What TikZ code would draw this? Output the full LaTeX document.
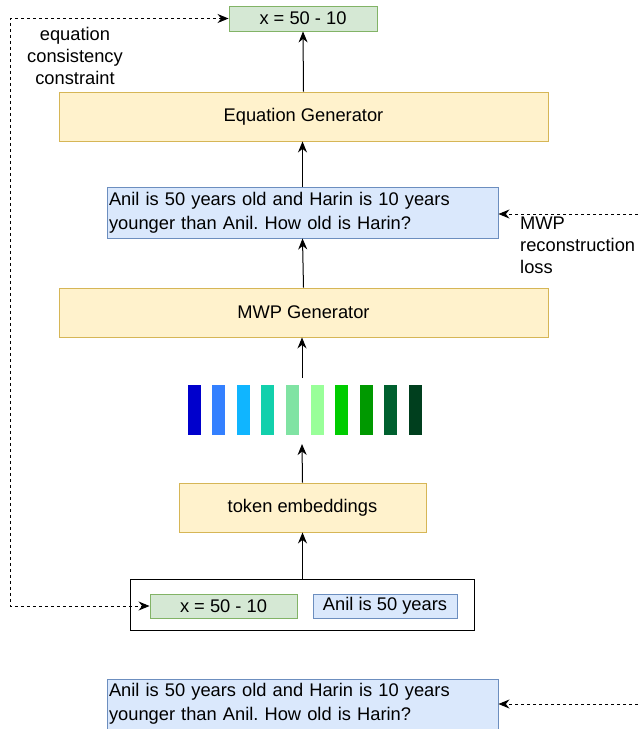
\documentclass[tikz,border=0pt]{standalone}
\usepackage{fontspec}
\setmainfont{Liberation Sans}
\usepackage{tikz}
\usetikzlibrary{positioning,arrows.meta}
\frenchspacing

\definecolor{eqfill}{HTML}{D5E8D4}
\definecolor{eqdraw}{HTML}{82B366}
\definecolor{txtfill}{HTML}{DAE8FC}
\definecolor{txtdraw}{HTML}{6C8EBF}
\definecolor{genfill}{HTML}{FFF2CC}
\definecolor{gendraw}{HTML}{D6B656}

\begin{document}
\begin{tikzpicture}[
  x=1pt, y=-1pt,
  font=\fontsize{18.3}{22}\selectfont,
  box/.style={draw, inner sep=0pt, line width=0.9pt},
  eqn/.style={box, fill=eqfill, draw=eqdraw},
  sentence/.style={box, fill=txtfill, draw=txtdraw, text width=387pt, align=left,
    minimum width=391pt, inner xsep=2pt, font=\fontsize{18.3}{24}\selectfont},
  generator/.style={box, fill=genfill, draw=gendraw},
  bar/.style={inner sep=0pt, minimum width=13pt, minimum height=50pt},
  flow/.style={-{Stealth[length=11pt,width=9pt]}, line width=1pt},
  loss/.style={flow, dashed, dash pattern=on 3pt off 3pt}
]
\useasboundingbox (0,0) rectangle (638,729);

% Outputs and generators
\node[eqn, minimum width=148pt, minimum height=25pt] (eqtop) at (303,18.5) {x = 50 - 10};
\node[generator, minimum width=489pt, minimum height=49pt] (eqgen) at (303.5,116.5) {Equation Generator};
\node[sentence, minimum height=51pt] (mwp) at (302.5,212.5)
  {Anil is 50 years old and Harin is 10 years younger than Anil. How old is Harin?};
\node[generator, minimum width=489pt, minimum height=49pt] (mwpgen) at (303.5,312.5) {MWP Generator};

% Token embedding bars
\foreach \c [count=\i] in {0000CC,3380FF,10B5FF,12D0AC,80E3A3,99FF99,00CC00,009900,00602F,003F1E} {
  \definecolor{barcol}{HTML}{\c}
  \node[bar, fill=barcol] (bar\i) at (194+24.6*\i-24.6,410) {};
}
\coordinate (barstop) at (302,378);
\coordinate (barsbot) at (302,444);

\node[generator, minimum width=247pt, minimum height=49pt] (emb) at (302.5,507.5) {token embeddings};

% Input pair
\node[box, fill=white, draw=black, minimum width=344pt, minimum height=51pt] (input) at (302,604.5) {};
\node[eqn, minimum width=147pt, minimum height=24pt] (eqin) at (223.5,606) {x = 50 - 10};
\node[box, fill=txtfill, draw=txtdraw, minimum width=144pt, minimum height=24pt] (partial) at (385,606) {Anil is 50 years};

\node[sentence, minimum height=50pt] (target) at (302.5,704)
  {Anil is 50 years old and Harin is 10 years younger than Anil. How old is Harin?};

% Connections
\draw[flow] (eqgen.north) -- (eqtop.south);
\draw[flow] (mwp.north) -- (mwp.north |- eqgen.south);
\draw[flow] (mwpgen.north) -- (mwp.south);
\draw[flow] (barstop) -- (barstop |- mwpgen.south);
\draw[flow] (emb.north) -- (barsbot);
\draw[flow] (input.north -| emb.north) -- (emb.south);

% Losses
\coordinate (left) at (10,0);
\coordinate (recin) at (638,214);
\coordinate (tgtin) at (638,704);
\draw[loss, {Stealth[length=11pt,width=9pt]}-{Stealth[length=11pt,width=9pt]}]
  (eqtop.west) -- (eqtop.west -| left) -- (eqin.west -| left) -- (eqin.west);
\draw[loss] (recin) -- (recin -| mwp.east);
\draw[loss] (tgtin) -- (target.east);

% Labels
\node[align=center] (eqlabel) at (75,56) {equation\\consistency\\constraint};
\node[align=left, anchor=north west, inner sep=0pt] (reclabel) at (520,217) {MWP\\reconstruction\\loss};

\end{tikzpicture}
\end{document}
